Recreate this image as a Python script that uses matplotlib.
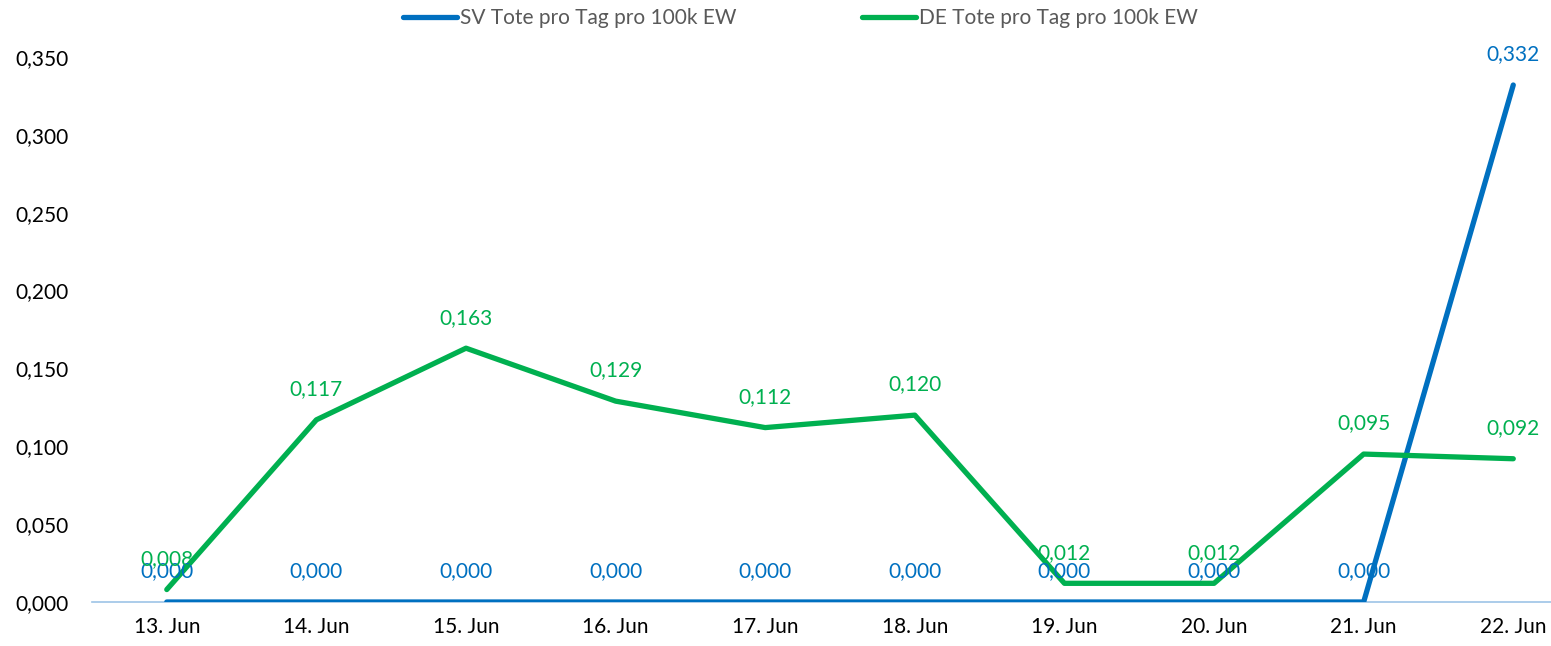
import matplotlib.pyplot as plt
import numpy as np

days = ["13. Jun", "14. Jun", "15. Jun", "16. Jun", "17. Jun",
        "18. Jun", "19. Jun", "20. Jun", "21. Jun", "22. Jun"]
sv = [0.000, 0.000, 0.000, 0.000, 0.000, 0.000, 0.000, 0.000, 0.000, 0.332]
de = [0.008, 0.117, 0.163, 0.129, 0.112, 0.120, 0.012, 0.012, 0.095, 0.092]

blue = "#0070C0"
green = "#00B050"

plt.rcParams['font.family'] = ['Lato', 'DejaVu Sans']

fig = plt.figure(figsize=(15.51, 6.46), dpi=100)
ax = fig.add_axes([0.0593, 0.0681, 0.9646, 0.8437])

x = np.arange(len(days))
ax.plot(x, sv, color=blue, lw=3.8, solid_capstyle="round", label="SV Tote pro Tag pro 100k EW", zorder=3)
ax.plot(x, de, color=green, lw=3.8, solid_capstyle="round", label="DE Tote pro Tag pro 100k EW", zorder=3)

for xi, v in zip(x, sv):
    ax.annotate(f"{v:.3f}".replace(".", ","), (xi, v), xytext=(0, 22), textcoords="offset points",
                ha="center", va="center", color=blue, fontsize=15)
for xi, v in zip(x, de):
    ax.annotate(f"{v:.3f}".replace(".", ","), (xi, v), xytext=(0, 22), textcoords="offset points",
                ha="center", va="center", color=green, fontsize=15)

ax.set_xlim(-0.5, len(days) - 0.5)
ax.set_ylim(0, 0.35)
ax.set_yticks(np.arange(0, 0.351, 0.05))
ax.set_yticklabels([f"{t:.3f}".replace(".", ",") for t in np.arange(0, 0.351, 0.05)])
ax.set_xticks(x)
ax.set_xticklabels(days)
ax.tick_params(length=0, labelsize=15, colors="black")
ax.tick_params(axis="y", pad=17)
ax.tick_params(axis="x", pad=11)

for s in ["top", "right", "left"]:
    ax.spines[s].set_visible(False)
ax.spines["bottom"].set_color("#9DC3E6")
ax.spines["bottom"].set_linestyle((0, (1, 1)))
ax.spines["bottom"].set_linewidth(1.2)

leg = fig.legend(loc="center", bbox_to_anchor=(0.516, 0.972), ncol=2, frameon=False,
                 fontsize=15, handlelength=2.6, handletextpad=0.15, columnspacing=6.0)
for t in leg.get_texts():
    t.set_color("#595959")

fig.savefig("out.png", dpi=100)
